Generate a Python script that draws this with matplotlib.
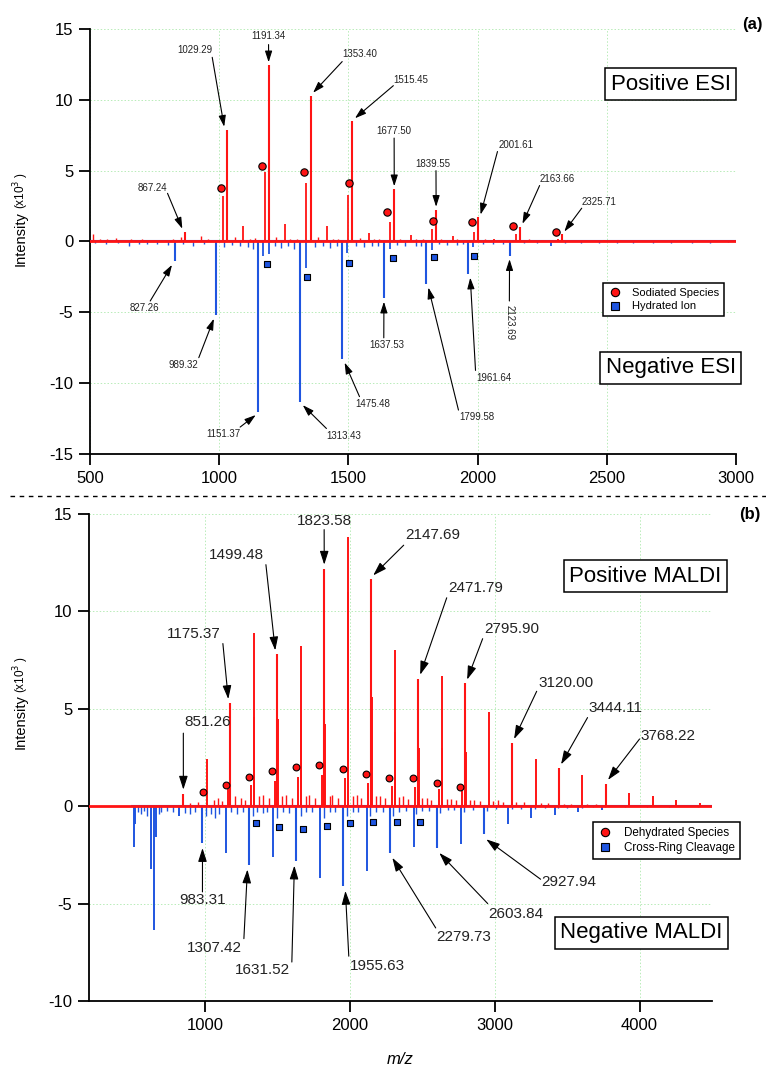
import matplotlib
matplotlib.use("Agg")
import matplotlib.pyplot as plt
from matplotlib.lines import Line2D

plt.rcParams['font.family'] = ['Liberation Sans', 'DejaVu Sans']
plt.rcParams['axes.unicode_minus'] = False

RED = '#ff1414'
BLUE = '#1f55e0'

# ---------------- (a) ESI data ----------------
esi_range = [500, 3000]

esi_pos_lab_mz = [867.24, 1029.29, 1191.34, 1353.40, 1515.45, 1677.50, 1839.55, 2001.61, 2163.66, 2325.71]
esi_pos_lab_int = [0.7, 7.9, 12.45, 10.3, 8.5, 3.7, 2.25, 1.7, 1.05, 0.5]
esi_pos_other_mz = [1013.32, 1175.37, 1337.42, 1499.48, 1661.53, 1823.58, 1985.64, 2147.69, 2309.74,
                    1093, 1255, 1417, 1579, 1741, 1903, 2065, 2487.76]
esi_pos_other_int = [3.2, 4.9, 4.1, 3.3, 1.4, 0.85, 0.7, 0.5, 0.2,
                     1.1, 1.2, 1.1, 0.6, 0.45, 0.4, 0.2, 0.12]
esi_pos_noise_mz = [510, 540, 565, 600, 640, 660, 700, 745, 790, 820, 851, 930, 955, 1060, 1120, 1140,
                    1220, 1275, 1300, 1384, 1440, 1460, 1546, 1600, 1620, 1700, 1760, 1790, 1860, 1920,
                    1950, 2030, 2100, 2200, 2250, 2350, 2420, 2550, 2620, 2700, 2780, 2850, 2920, 2980]
esi_pos_noise_int = [0.5, 0.15, 0.2, 0.25, 0.1, 0.2, 0.15, 0.12, 0.1, 0.15, 0.3, 0.4, 0.15, 0.3, 0.15, 0.25,
                     0.3, 0.2, 0.15, 0.3, 0.2, 0.2, 0.25, 0.2, 0.15, 0.2, 0.15, 0.2, 0.15, 0.15,
                     0.1, 0.15, 0.12, 0.15, 0.1, 0.1, 0.1, 0.08, 0.1, 0.08, 0.08, 0.08, 0.08, 0.06]
esi_sodiated_mz = [1008, 1166, 1329, 1503, 1651, 1826, 1980, 2136, 2302]
esi_sodiated_int = [3.75, 5.3, 4.9, 4.1, 2.1, 1.45, 1.35, 1.1, 0.7]

esi_neg_lab_mz = [827.26, 989.32, 1151.37, 1313.43, 1475.48, 1637.53, 1799.58, 1961.64, 2123.69]
esi_neg_lab_int = [-1.4, -5.2, -12.0, -11.3, -8.3, -4.0, -3.0, -2.3, -1.0]
esi_neg_other_mz = [1170, 1194, 1337, 1496, 1660, 1822, 1984, 2285.74]
esi_neg_other_int = [-1.0, -0.9, -1.9, -0.8, -0.5, -0.6, -0.4, -0.3]
esi_neg_noise_mz = [520, 560, 610, 650, 690, 720, 760, 800, 860, 900, 940, 1020, 1050, 1080, 1110, 1130,
                    1215, 1240, 1265, 1290, 1370, 1400, 1430, 1455, 1530, 1560, 1590, 1615, 1690, 1720,
                    1760, 1780, 1850, 1880, 1920, 1945, 2020, 2060, 2100, 2180, 2230, 2340, 2400, 2470,
                    2540, 2600, 2680, 2750, 2830, 2900, 2970]
esi_neg_noise_int = [-0.1, -0.15, -0.1, -0.3, -0.15, -0.2, -0.15, -0.25, -0.2, -0.3, -0.15, -0.4, -0.25, -0.3, -0.4, -0.5,
                     -0.3, -0.45, -0.3, -0.5, -0.4, -0.3, -0.45, -0.3, -0.3, -0.4, -0.3, -0.35, -0.25, -0.3,
                     -0.3, -0.3, -0.2, -0.25, -0.25, -0.2, -0.15, -0.15, -0.2, -0.12, -0.1, -0.1, -0.12, -0.1,
                     -0.08, -0.1, -0.08, -0.1, -0.08, -0.08, -0.06]
esi_hydrated_mz = [1186, 1341, 1504, 1674, 1833, 1988]
esi_hydrated_int = [-1.6, -2.5, -1.5, -1.2, -1.1, -1.0]

# ---------------- (b) MALDI data ----------------
maldi_pos_range = [200, 4500]
maldi_neg_range = [500, 4500]

maldi_pos_lab_mz = [851.26, 1175.37, 1499.48, 1823.58, 2147.69, 2471.79, 2795.90, 3120.00, 3444.11, 3768.22]
maldi_pos_lab_int = [0.65, 5.3, 7.8, 12.2, 11.65, 6.55, 6.3, 3.25, 1.95, 1.15]
maldi_pos_other_mz = [1013.32, 1337.42, 1661.53, 1985.64, 2309.74, 2633.85, 2957.95, 3282.06, 3606.16,
                      3930.27, 4092.32, 4254.38, 4416.43,
                      1341, 1503, 1665, 1827, 1989, 2151, 2313, 2475, 2637, 2799,
                      1157, 1319, 1481, 1643, 1805, 1967, 2129, 2291, 2453, 2615, 2777]
maldi_pos_other_int = [2.4, 8.9, 8.2, 13.8, 8.0, 6.7, 4.85, 2.4, 1.6,
                       0.7, 0.5, 0.3, 0.15,
                       4.6, 4.5, 4.4, 4.2, 11.0, 5.6, 3.8, 3.0, 3.0, 2.8,
                       0.9, 1.1, 1.3, 1.5, 1.6, 1.45, 1.2, 1.05, 1.0, 0.9, 0.8]
maldi_pos_noise_mz = [700, 900, 950, 1060, 1090, 1120, 1210, 1250, 1280, 1370, 1400, 1440, 1530, 1560, 1600,
                      1700, 1720, 1760, 1860, 1880, 1920, 2020, 2050, 2080, 2180, 2210, 2240, 2340, 2370,
                      2400, 2500, 2530, 2560, 2670, 2700, 2730, 2830, 2860, 2900, 2990, 3020, 3060, 3150,
                      3200, 3320, 3370, 3480, 3530, 3640, 3700, 3800, 3870, 3960, 4030, 4150, 4300, 4450]
maldi_pos_noise_int = [0.08, 0.15, 0.2, 0.3, 0.4, 0.25, 0.5, 0.4, 0.3, 0.5, 0.6, 0.4, 0.5, 0.6, 0.4,
                       0.5, 0.6, 0.4, 0.5, 0.6, 0.4, 0.5, 0.6, 0.4, 0.5, 0.5, 0.4, 0.45, 0.5,
                       0.35, 0.4, 0.4, 0.3, 0.35, 0.35, 0.3, 0.3, 0.3, 0.25, 0.25, 0.3, 0.2, 0.2,
                       0.2, 0.15, 0.15, 0.12, 0.12, 0.1, 0.1, 0.08, 0.08, 0.06, 0.06, 0.05, 0.05, 0.04]
maldi_dehydrated_mz = [986, 1145, 1305, 1462, 1628, 1786, 1951, 2110, 2270, 2436, 2600, 2759]
maldi_dehydrated_int = [0.75, 1.1, 1.5, 1.8, 2.0, 2.1, 1.9, 1.65, 1.45, 1.45, 1.2, 1.0]

maldi_neg_lab_mz = [983.31, 1307.42, 1631.52, 1955.63, 2279.73, 2603.84, 2927.94]
maldi_neg_lab_int = [-1.9, -3.0, -2.8, -4.1, -2.4, -2.15, -1.45]
maldi_neg_other_mz = [510, 515, 628, 648, 662, 820, 1145.37, 1469.47, 1793.58, 2117.68, 2441.79, 2765.89,
                      3090, 3252, 3414, 3576, 3738]
maldi_neg_other_int = [-2.1, -0.9, -3.2, -6.35, -1.6, -0.5, -2.4, -2.6, -3.7, -3.35, -2.1, -1.95,
                       -0.9, -0.6, -0.45, -0.3, -0.2]
maldi_neg_noise_mz = [540, 560, 580, 600, 680, 700, 740, 780, 860, 900, 930, 1010, 1040, 1070, 1100, 1180,
                      1220, 1260, 1330, 1360, 1400, 1430, 1500, 1540, 1580, 1660, 1700, 1740, 1820, 1860,
                      1900, 1980, 2020, 2060, 2140, 2180, 2230, 2300, 2340, 2390, 2460, 2500, 2550, 2620,
                      2680, 2720, 2790, 2850, 2950, 3010, 3120, 3180, 3280, 3350, 3440, 3500, 3600, 3680,
                      3760, 3900, 4050, 4200, 4400]
maldi_neg_noise_int = [-0.3, -0.4, -0.25, -0.5, -0.4, -0.3, -0.25, -0.3, -0.35, -0.4, -0.3, -0.5, -0.4, -0.6, -0.4, -0.3,
                       -0.4, -0.3, -0.5, -0.3, -0.35, -0.3, -0.6, -0.3, -0.35, -0.5, -0.3, -0.3, -0.6, -0.3,
                       -0.3, -0.5, -0.3, -0.3, -0.5, -0.3, -0.3, -0.5, -0.3, -0.25, -0.4, -0.25, -0.25, -0.35,
                       -0.2, -0.2, -0.3, -0.2, -0.25, -0.15, -0.15, -0.12, -0.12, -0.1, -0.1, -0.08, -0.08, -0.06,
                       -0.06, -0.05, -0.05, -0.04, -0.04]
maldi_crossring_mz = [1352, 1510, 1676, 1841, 2000, 2163, 2324, 2484]
maldi_crossring_int = [-0.85, -1.05, -1.15, -1.0, -0.85, -0.8, -0.8, -0.8]

# ---------------- label layout (text centre, arrow start) ----------------
esi_pos_txt = [(740, 3.8), (907, 13.5), (1191, 14.5), (1543, 13.2), (1740, 11.4),
               (1677, 7.8), (1826, 5.5), (2147, 6.8), (2310, 4.4), (2469, 2.8)]
esi_pos_arr = [(800, 3.4), (973, 13.0), (1191, 13.9), (1476, 12.7), (1674, 11.0),
               (1677, 7.3), (1839, 5.0), (2077, 6.35), (2240, 3.95), (2403, 2.35)]
esi_neg_txt = [(710, -4.7), (860, -8.7), (1016, -13.6), (1481, -13.7), (1596, -11.5),
               (1647, -7.3), (1997, -12.4), (2062, -9.6), (2124, -5.7)]
esi_neg_arr = [(733, -4.2), (921, -8.2), (1081, -13.1), (1415, -13.2), (1543, -10.95),
               (1637, -6.8), (1926, -11.9), (1992, -9.1), (2123, -4.2)]
esi_neg_rot = [0, 0, 0, 0, 0, 0, 0, 0, -90]

maldi_pos_txt = [(1021, 4.3), (924, 8.85), (1221, 12.9), (1823, 14.65), (2572, 13.9),
                 (2869, 11.2), (3117, 9.1), (3490, 6.3), (3835, 5.05), (4193, 3.6)]
maldi_pos_arr = [(851, 3.75), (1124, 8.35), (1421, 12.4), (1823, 14.2), (2372, 13.4),
                 (2669, 10.7), (2917, 8.6), (3290, 5.9), (3641, 4.55), (4000, 3.45)]
maldi_neg_txt = [(986, -4.8), (1062, -7.3), (1400, -8.4), (2193, -8.2), (2787, -6.7),
                 (3145, -5.55), (3510, -3.9)]
maldi_neg_arr = [(983, -4.4), (1269, -6.8), (1600, -8.0), (1993, -7.7), (2593, -6.25),
                 (2952, -5.0), (3317, -3.75)]


def sticks(ax, mz, inten, color, lw):
    ax.vlines(mz, 0, inten, colors=color, lw=lw, zorder=3)


def label_peaks(ax, mzs, ints, txts, arrs, fs, ms, dx, gap, rots=None):
    if rots is None:
        rots = [0] * len(mzs)
    for mz, h, (tx, ty), (sx, sy), rot in zip(mzs, ints, txts, arrs, rots):
        sgn = 1 if h > 0 else -1
        off = 0
        if abs(sx - mz) > 20:
            off = dx if sx > mz else -dx
        ax.annotate('', xy=(mz + off, h + sgn * gap), xytext=(sx, sy),
                    arrowprops=dict(arrowstyle='-|>,head_length=0.75,head_width=0.24',
                                    color='black', lw=0.8, shrinkA=0, shrinkB=0,
                                    mutation_scale=ms), zorder=5)
        ax.text(tx, ty, f'{mz:.2f}', fontsize=fs, ha='center', va='center',
                rotation=rot, color='#222222', zorder=5)


def style_axes(ax):
    for s in ['top', 'right']:
        ax.spines[s].set_visible(False)
    for s in ['left', 'bottom']:
        ax.spines[s].set_linewidth(1.3)
    ax.tick_params(direction='out', length=8, width=1.3, labelsize=12, pad=4)
    ax.grid(True, color='#b8ecb8', ls=(0, (1.5, 2)), lw=0.7)
    ax.set_axisbelow(True)


fig = plt.figure(figsize=(7.66, 10.70), dpi=100)

# ---------- panel (a) ----------
ax1 = fig.add_axes([0.1175, 0.5757, 0.8433, 0.3972])
ax1.plot(esi_range, [0, 0], color=BLUE, lw=1.5, zorder=3)
ax1.plot(esi_range, [0, 0], color=RED, lw=2.0, zorder=4)
sticks(ax1, esi_pos_noise_mz, esi_pos_noise_int, RED, 1.0)
sticks(ax1, esi_pos_other_mz, esi_pos_other_int, RED, 1.3)
sticks(ax1, esi_pos_lab_mz, esi_pos_lab_int, RED, 1.5)
sticks(ax1, esi_neg_noise_mz, esi_neg_noise_int, BLUE, 1.0)
sticks(ax1, esi_neg_other_mz, esi_neg_other_int, BLUE, 1.3)
sticks(ax1, esi_neg_lab_mz, esi_neg_lab_int, BLUE, 1.5)
ax1.scatter(esi_sodiated_mz, esi_sodiated_int, s=28, marker='o', color=RED,
            edgecolors='black', linewidths=0.8, zorder=6)
ax1.scatter(esi_hydrated_mz, esi_hydrated_int, s=24, marker='s', color=BLUE,
            edgecolors='black', linewidths=0.8, zorder=6)
label_peaks(ax1, esi_pos_lab_mz, esi_pos_lab_int, esi_pos_txt, esi_pos_arr, 7, 9, 10, 0.2)
label_peaks(ax1, esi_neg_lab_mz, esi_neg_lab_int, esi_neg_txt, esi_neg_arr, 7, 9, 10, 0.25, esi_neg_rot)

ax1.set_xlim(500, 3000)
ax1.set_ylim(-15, 15)
ax1.set_xticks([500, 1000, 1500, 2000, 2500, 3000])
ax1.set_yticks([-15, -10, -5, 0, 5, 10, 15])
style_axes(ax1)

box = dict(boxstyle='square,pad=0.25', fc='white', ec='black', lw=1.1)
ax1.text(2748, 11.1, 'Positive ESI', fontsize=16, ha='center', va='center', bbox=box, zorder=7)
ax1.text(2748, -8.9, 'Negative ESI', fontsize=16, ha='center', va='center', bbox=box, zorder=7)

h1 = [Line2D([], [], ls='none', marker='o', ms=6, mfc=RED, mec='black', mew=0.8),
      Line2D([], [], ls='none', marker='s', ms=5.5, mfc=BLUE, mec='black', mew=0.8)]
leg1 = ax1.legend(h1, ['Sodiated Species', 'Hydrated Ion'], loc='upper left',
                  bbox_to_anchor=(0.794, 0.402), borderaxespad=0, fontsize=8,
                  fancybox=False, edgecolor='black', framealpha=1, handlelength=1.2,
                  handletextpad=1.0, labelspacing=0.3, borderpad=0.45)
leg1.get_frame().set_linewidth(1.1)
leg1.set_zorder(8)

# ---------- panel (b) ----------
ax2 = fig.add_axes([0.1162, 0.0645, 0.8133, 0.4551])
ax2.plot(maldi_neg_range, [0, 0], color=BLUE, lw=1.5, zorder=3)
ax2.plot(maldi_pos_range, [0, 0], color=RED, lw=2.0, zorder=4)
sticks(ax2, maldi_pos_noise_mz, maldi_pos_noise_int, RED, 1.0)
sticks(ax2, maldi_pos_other_mz, maldi_pos_other_int, RED, 1.4)
sticks(ax2, maldi_pos_lab_mz, maldi_pos_lab_int, RED, 1.5)
sticks(ax2, maldi_neg_noise_mz, maldi_neg_noise_int, BLUE, 1.0)
sticks(ax2, maldi_neg_other_mz, maldi_neg_other_int, BLUE, 1.4)
sticks(ax2, maldi_neg_lab_mz, maldi_neg_lab_int, BLUE, 1.5)
ax2.scatter(maldi_dehydrated_mz, maldi_dehydrated_int, s=24, marker='o', color=RED,
            edgecolors='black', linewidths=0.8, zorder=6)
ax2.scatter(maldi_crossring_mz, maldi_crossring_int, s=22, marker='s', color=BLUE,
            edgecolors='black', linewidths=0.8, zorder=6)
label_peaks(ax2, maldi_pos_lab_mz, maldi_pos_lab_int, maldi_pos_txt, maldi_pos_arr, 11, 11, 14, 0.2)
label_peaks(ax2, maldi_neg_lab_mz, maldi_neg_lab_int, maldi_neg_txt, maldi_neg_arr, 11, 11, 14, 0.25)

ax2.set_xlim(200, 4500)
ax2.set_ylim(-10, 15)
ax2.set_xticks([1000, 2000, 3000, 4000])
ax2.set_yticks([-10, -5, 0, 5, 10, 15])
style_axes(ax2)
ax2.set_xlabel('m/z', fontsize=12, style='italic', labelpad=14)

ax2.text(4041, 11.8, 'Positive MALDI', fontsize=16, ha='center', va='center', bbox=box, zorder=7)
ax2.text(4014, -6.5, 'Negative MALDI', fontsize=16, ha='center', va='center', bbox=box, zorder=7)

h2 = [Line2D([], [], ls='none', marker='o', ms=6, mfc=RED, mec='black', mew=0.8),
      Line2D([], [], ls='none', marker='s', ms=5.5, mfc=BLUE, mec='black', mew=0.8)]
leg2 = ax2.legend(h2, ['Dehydrated Species', 'Cross-Ring Cleavage'], loc='upper left',
                  bbox_to_anchor=(0.809, 0.3676), borderaxespad=0, fontsize=8.4,
                  fancybox=False, edgecolor='black', framealpha=1, handlelength=1.2,
                  handletextpad=1.0, labelspacing=0.25, borderpad=0.45)
leg2.get_frame().set_linewidth(1.1)
leg2.set_zorder(8)

# ---------- figure decorations ----------
W, H = 766.0, 1070.0
for yc_int, yc_sc in [(239, 190), (722, 674)]:
    fig.text(21 / W, 1 - yc_int / H, 'Intensity', rotation=90, fontsize=10.5, ha='center', va='center')
    fig.text(21 / W, 1 - yc_sc / H, '(x10$^3$ )', rotation=90, fontsize=8.5, ha='center', va='center')

fig.text(752 / W, 1 - 25 / H, '(a)', fontsize=12, fontweight='bold', ha='center', va='center')
fig.text(750 / W, 1 - 515 / H, '(b)', fontsize=12, fontweight='bold', ha='center', va='center')

fig.add_artist(Line2D([10 / W, 1.0], [1 - 496 / H, 1 - 496 / H], transform=fig.transFigure,
                      color='black', lw=1.0, dashes=(3.3, 3.3)))

fig.savefig('out.png', dpi=100)
